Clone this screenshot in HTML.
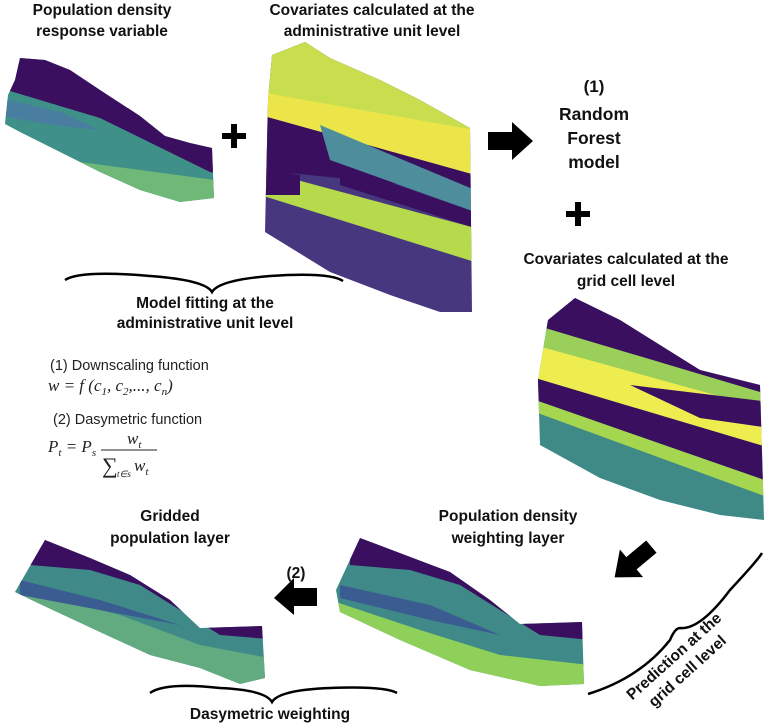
<!DOCTYPE html>
<html><head><meta charset="utf-8"><style>
html,body{margin:0;padding:0;background:#fff;width:768px;height:724px;overflow:hidden}
svg{display:block}
.t{font-family:"Liberation Sans",sans-serif;font-weight:bold;font-size:15.5px;fill:#111;text-anchor:middle}
.f{font-family:"Liberation Sans",sans-serif;font-size:14.5px;fill:#222}
.m{font-family:"Liberation Serif",serif;font-style:italic;font-size:17px;fill:#222}
</style></head><body>
<svg width="768" height="724" viewBox="0 0 768 724">
<defs>
<clipPath id="c1"><polygon points="20,58 45,60 70,70 100,90 140,116 165,136 190,143 212,148 214,198 180,202 140,190 100,172 60,152 20,132 5,124 8,95 15,80"/></clipPath>
<clipPath id="c2"><polygon points="272,55 305,42 330,58 380,80 420,100 470,128 472,312 440,312 390,295 330,272 265,232 268,100"/></clipPath>
<clipPath id="c3"><polygon points="548,320 575,298 620,320 660,345 700,370 760,385 764,520 720,515 660,500 600,478 540,445 538,380"/></clipPath>
<clipPath id="c4"><polygon points="15,592 45,540 90,558 130,575 170,600 200,628 262,626 265,678 240,684 200,668 150,655 100,632 40,604"/></clipPath>
<clipPath id="c5"><polygon points="336,590 360,538 405,555 450,572 490,600 520,624 582,622 584,684 540,686 470,670 400,640 340,612"/></clipPath>
</defs>
<!-- map1 -->
<g clip-path="url(#c1)">
<rect x="0" y="50" width="230" height="160" fill="#3f9088"/>
<polygon points="0,50 230,50 230,175 210,172 100,118 0,88" fill="#3b0f5f"/>
<polygon points="80,162 230,182 230,210 80,210" fill="#6fb878"/>
<polygon points="0,98 60,112 100,130 60,126 0,116" fill="#4a7ea0"/>
</g>
<!-- map2 stack -->
<g clip-path="url(#c2)">
<rect x="260" y="40" width="215" height="280" fill="#46377f"/>
<polygon points="260,40 475,40 475,140 260,100" fill="#c8de4e"/>
<polygon points="260,92 475,130 475,175 260,115" fill="#ebe54a"/>
<polygon points="260,115 475,175 475,192 260,170" fill="#3b0f5f"/>
<polygon points="320,125 475,190 475,212 330,160" fill="#4d8d9c"/>
<polygon points="340,165 475,212 475,228 340,185" fill="#3b0f5f"/>
<polygon points="260,170 475,228 475,262 260,195" fill="#b6da4c"/>
<polygon points="260,168 300,175 300,195 260,195" fill="#3b0f5f"/>
</g>
<!-- map3 stack -->
<g clip-path="url(#c3)">
<rect x="535" y="290" width="235" height="240" fill="#3f8a86"/>
<polygon points="535,290 770,290 770,395 535,330" fill="#3b0f5f"/>
<polygon points="535,325 770,395 770,410 535,345" fill="#9ad05a"/>
<polygon points="535,345 770,410 770,448 535,378" fill="#eded50"/>
<polygon points="630,385 770,402 770,428 700,418" fill="#3b0f5f"/>
<polygon points="535,378 770,448 770,482 535,400" fill="#3b0f5f"/>
<polygon points="535,400 770,482 770,498 535,412" fill="#a5d650"/>
</g>
<!-- map4 -->
<g clip-path="url(#c4)">
<rect x="0" y="530" width="280" height="160" fill="#3f8a88"/>
<polygon points="30,530 280,530 280,640 220,635 180,610 140,585 90,570 30,565" fill="#3b0f5f"/>
<polygon points="20,590 120,615 200,645 280,660 280,690 20,690" fill="#62aa80"/>
<polygon points="20,580 100,600 180,625 100,610 20,595" fill="#3a5c90"/>
</g>
<!-- map5 -->
<g clip-path="url(#c5)">
<rect x="330" y="530" width="260" height="160" fill="#3f8a88"/>
<polygon points="350,530 590,530 590,640 540,635 500,610 460,585 410,570 350,565" fill="#3b0f5f"/>
<polygon points="330,600 420,630 500,655 590,665 590,690 330,690" fill="#8fd05a"/>
<polygon points="340,585 430,605 500,635 430,620 340,598" fill="#3a5c90"/>
</g>
<!-- plus signs -->
<rect x="222" y="133" width="24" height="6" fill="#000"/><rect x="231" y="124" width="6" height="24" fill="#000"/>
<rect x="566" y="211" width="24" height="6" fill="#000"/><rect x="575" y="202" width="6" height="24" fill="#000"/>
<!-- arrows -->
<polygon points="488,132 512,132 512,122 533,141 512,160 512,150 488,150" fill="#000"/>
<polygon points="317,588 294,588 294,578 274,598 294,615 294,606 317,606" fill="#000"/>
<g transform="translate(633,562) rotate(140)">
<polygon points="-24,-8 2,-8 2,-18 24,0 2,18 2,8 -24,8" fill="#000"/>
</g>
<!-- braces -->
<path d="M65,280 Q80,270 150,276 Q205,280 212,292 Q219,280 270,276 Q330,272 343,281" stroke="#000" stroke-width="2.5" fill="none"/>
<path d="M150,693 Q165,682 220,688 Q265,690 272,702 Q279,690 330,688 Q385,686 397,693" stroke="#000" stroke-width="2.5" fill="none"/>
<path d="M588,694 Q640,678 670,640 Q675,628 680,628 Q700,630 730,590 Q758,560 762,553" stroke="#000" stroke-width="2.5" fill="none"/>
<!-- titles -->
<text class="t" x="102" y="15">Population density</text>
<text class="t" x="102" y="36">response variable</text>
<text class="t" x="372" y="15">Covariates calculated at the</text>
<text class="t" x="372" y="36">administrative unit level</text>
<text class="t" x="594" y="92" style="font-size:17px">(1)</text>
<text class="t" x="594" y="120" style="font-size:17.5px">Random</text>
<text class="t" x="594" y="144" style="font-size:17.5px">Forest</text>
<text class="t" x="594" y="168" style="font-size:17.5px">model</text>
<text class="t" x="626" y="264">Covariates calculated at the</text>
<text class="t" x="626" y="286">grid cell level</text>
<text class="t" x="205" y="308">Model fitting at the</text>
<text class="t" x="205" y="328">administrative unit level</text>
<text class="t" x="170" y="521">Gridded</text>
<text class="t" x="170" y="543">population layer</text>
<text class="t" x="508" y="521">Population density</text>
<text class="t" x="508" y="543">weighting layer</text>
<text class="t" x="296" y="578">(2)</text>
<text class="t" x="270" y="719">Dasymetric weighting</text>
<g transform="translate(680,663) rotate(-42)">
<text class="t" x="0" y="-4">Prediction at the</text>
<text class="t" x="0" y="16">grid cell level</text>
</g>
<!-- formulas -->
<text class="f" x="50" y="370">(1) Downscaling function</text>
<text class="m" x="48" y="391">w = f (c<tspan font-size="11" dy="4">1</tspan><tspan dy="-4">, c</tspan><tspan font-size="11" dy="4">2</tspan><tspan dy="-4">,..., c</tspan><tspan font-size="11" dy="4">n</tspan><tspan dy="-4">)</tspan></text>
<text class="f" x="53" y="424">(2) Dasymetric function</text>
<text class="m" x="48" y="452">P<tspan font-size="11" dy="4">t</tspan><tspan dy="-4"> = P</tspan><tspan font-size="11" dy="4">s</tspan></text>
<text class="m" x="127" y="444">w<tspan font-size="11" dy="4">t</tspan></text>
<line x1="101" y1="450" x2="157" y2="450" stroke="#222" stroke-width="1"/>
<text class="m" x="102" y="473" style="font-style:normal;font-size:22px">∑</text>
<text class="m" x="117" y="477" style="font-size:9px">t∈s</text>
<text class="m" x="134" y="471">w<tspan font-size="11" dy="4">t</tspan></text>
</svg>
</body></html>
